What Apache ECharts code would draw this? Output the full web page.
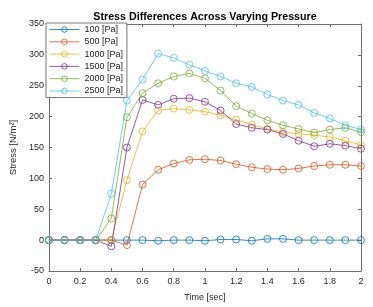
<!DOCTYPE html>
<html><head><meta charset="utf-8">
<script src="https://cdn.jsdelivr.net/npm/echarts@6/dist/echarts.min.js"></script>
<style>html,body{margin:0;padding:0;background:#fff}#c{width:373px;height:307px}</style>
</head><body><div id="c"></div>
<script>
const times = [0,0.1,0.2,0.3,0.4,0.5,0.6,0.7,0.8,0.9,1.0,1.1,1.2,1.3,1.4,1.5,1.6,1.7,1.8,1.9,2.0];
const seriesNames = ['100 [Pa]','500 [Pa]','1000 [Pa]','1500 [Pa]','2000 [Pa]','2500 [Pa]'];
const s100  = [0,0,0,0,0,0,0,-1,0,0,-1,1,1,-1,2,2,0,0,0,0,0];
const s500  = [0,0,0,0,0,-8,90,114,124,130,131,129,123,118,115,114,116,120,122,122,120];
const s1000 = [0,0,0,0,0,97,176,210,213,211,208,202,195,187,180,175,172,170,167,161,154];
const s1500 = [0,0,0,0,-10,150,227,219,229,230,224,210,188,182,179,172,161,152,156,153,148];
const s2000 = [0,0,0,0,35,199,238,254,265,270,262,242,217,205,194,186,180,174,179,182,175];
const s2500 = [0,0,0,0,75,226,260,302,295,284,274,265,254,248,236,226,219,206,197,186,179];
const colors = ['#0072BD','#D95319','#EDB120','#7E2F8E','#77AC30','#4DBEEE'];
const allData = [s100,s500,s1000,s1500,s2000,s2500];

const chart = echarts.init(document.getElementById('c'));
const font = 'Liberation Sans, Arial, sans-serif';
const lineCol = '#6e6e6e';
const xBase = {type:'value',min:0,max:2,interval:0.2,
  axisLine:{show:true,onZero:false,lineStyle:{color:lineCol,width:1}},
  axisTick:{show:true,inside:true,length:3,lineStyle:{color:lineCol}},
  splitLine:{show:false}};
const yBase = {type:'value',min:-50,max:350,interval:50,
  axisLine:{show:true,onZero:false,lineStyle:{color:lineCol,width:1}},
  axisTick:{show:true,inside:true,length:3,lineStyle:{color:lineCol}},
  splitLine:{show:false}};
chart.setOption({
  animation:false,
  backgroundColor:'#fff',
  title:{text:'Stress Differences Across Varying Pressure',left:200,top:7,textAlign:'center',
    textStyle:{fontFamily:font,fontSize:10.7,fontWeight:'bold',color:'#000'}},
  grid:{left:45,right:12,top:24,bottom:34,containLabel:false},
  legend:{orient:'vertical',left:46,top:23,itemGap:3.3,itemWidth:30,itemHeight:7,
    padding:[2,4,2,3],backgroundColor:'#fff',borderColor:'#777',borderWidth:1,
    lineStyle:{width:0.8},itemStyle:{borderWidth:0.8},
    textStyle:{fontFamily:font,fontSize:9,color:'#222'},data:seriesNames},
  xAxis:[Object.assign({},xBase,{position:'bottom',name:'Time [sec]',nameLocation:'middle',nameGap:22,
      nameTextStyle:{fontFamily:font,fontSize:9,color:'#262626'},
      axisLabel:{fontFamily:font,fontSize:9,color:'#262626',margin:6,formatter:v=>String(+v.toFixed(1))}}),
    Object.assign({},xBase,{position:'top',axisLabel:{show:false}})],
  yAxis:[Object.assign({},yBase,{position:'left',name:'Stress [N/m²]',nameLocation:'middle',nameGap:25,
      nameTextStyle:{fontFamily:font,fontSize:9.5,color:'#262626'},
      axisLabel:{fontFamily:font,fontSize:9,color:'#262626',margin:5}}),
    Object.assign({},yBase,{position:'right',axisLabel:{show:false}})],
  series: seriesNames.map((n,i)=>({
    name:n,type:'line',xAxisIndex:0,yAxisIndex:0,
    data: times.map((t,j)=>[t,allData[i][j]]),
    symbol:'circle',symbolSize:7,showAllSymbol:true,
    lineStyle:{width:0.8,color:colors[i]},
    itemStyle:{color:'rgba(255,255,255,0)',borderColor:colors[i],borderWidth:0.8},
    color:colors[i]
  }))
});
</script></body></html>
